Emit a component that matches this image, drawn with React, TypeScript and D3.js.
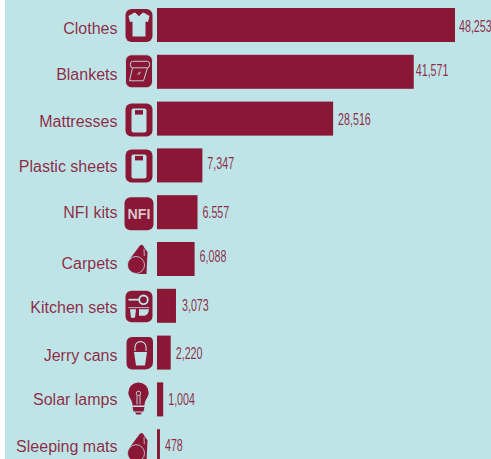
import React from "react";
import * as d3 from "d3";

const categories = ["Clothes","Blankets","Mattresses","Plastic sheets","NFI kits","Carpets","Kitchen sets","Jerry cans","Solar lamps","Sleeping mats"];
const values = [48253,41571,28516,7347,6557,6088,3073,2220,1004,478];
const valueLabels = ["48,253","41,571","28,516","7,347","6.557","6,088","3,073","2,220","1,004","478"];
const icons = ["shirt","blanket","mattress","mattress","nfi","roll","kitchen","bucket","lamp","roll"];

const BG = "#bee4e8";
const INK = "#8a1735";

const W = 491, H = 459;
const x = d3.scaleLinear().domain([0, 48253]).range([157, 455]);
const y = d3.scaleBand<number>().domain(d3.range(10)).range([8, 463.2]).paddingInner(0.2735).paddingOuter(0);

const Tile = ({ x: tx = 0, y: ty = 0, w = 27, h = 33 }: any) => <rect x={tx} y={ty} width={w} height={h} rx={6} fill={INK} />;

function Icon({ kind }: { kind: string }) {
  switch (kind) {
    case "shirt":
      return <g><Tile />
        <path d="M9 3.5 L13.5 5.5 L18 3.5 L24 7 L22.5 13 L20 12.5 L20 27.5 L7 27.5 L7 12.5 L4.5 13 L3 7 Z" fill={BG} />
        <path d="M10 3.5 L13.5 7 L17 3.5" fill={INK} stroke={INK} strokeWidth={0.5} /></g>;
    case "blanket":
      return <g fill="none" stroke={BG} strokeWidth={0.9}><Tile />
        <path d="M7 6.5 H22 A2 3 0 0 1 22 13 H7 A2 3 0 0 1 7 6.5 Z" />
        <path d="M7 13 L4 26 H18 L22 13" />
        <path d="M12 20 L14 17 M13.5 20 L15 17" strokeWidth={0.7} /></g>;
    case "mattress":
      return <g><Tile />
        <rect x={6} y={5} width={15} height={24} rx={2} fill={BG} />
        <rect x={9.5} y={6.5} width={8} height={4.5} fill={INK} /></g>;
    case "nfi":
      return <g><rect x={-1} y={0} width={29} height={33} rx={6} fill={INK} />
        <text x={13.5} y={22} textAnchor="middle" fontFamily="'Liberation Sans', Arial, sans-serif" fontWeight={700} fontSize={15} fill="#d9c4cc" transform="translate(13.5 0) scale(0.95 1) translate(-13.5 0)">NFI</text></g>;
    case "roll":
      return <g>
        <path d="M5 15 L14 3 Q17 0 19 5 L22 9 L21 31 L10 31 Z" fill={INK} />
        <circle cx={10.5} cy={22} r={8.5} fill={INK} stroke={BG} strokeWidth={0.8} />
        <path d="M18.5 6 L18.8 13" stroke={BG} strokeWidth={0.8} fill="none" /></g>;
    case "kitchen":
      return <g><rect x={0} y={1} width={27} height={31.5} rx={6} fill={INK} />
        <rect x={3} y={9} width={11} height={1.8} fill={BG} />
        <circle cx={18} cy={10} r={4.3} fill="none" stroke={BG} strokeWidth={1.8} />
        <path d="M4.5 19.5 H10.5 L9.5 28 H5.5 Z" fill={BG} />
        <path d="M13.5 19.5 H23.5 Q23 25 19 26 H13.5 Z" fill={BG} />
        <rect x={3} y={17.5} width={21} height={0.8} fill={BG} /></g>;
    case "bucket":
      return <g><path d="M7 0 H23 Q27.5 0 27.5 5 V25 Q27.5 32 20 32.5 H7 Q1 32.5 1 26 V6 Q1 0 7 0 Z" fill={INK} />
        <path d="M9.5 14 V10 A5.5 5.5 0 0 1 20.5 10 V14" fill="none" stroke={BG} strokeWidth={1.1} />
        <path d="M8.5 15 H21.5 L19.5 28.5 H10.5 Z" fill={BG} /></g>;
    case "lamp":
      return <g>
        <path d="M13 -1 A10.2 10.2 0 0 1 23.2 9 C23.2 14 19 16 19 22 H7 C7 16 2.8 14 2.8 9 A10.2 10.2 0 0 1 13 -1 Z" fill={INK} />
        <path d="M7 23.5 H19 L18 28 H8 Z" fill={INK} />
        <path d="M9.5 29 H16.5 L15 31 H11 Z" fill={INK} />
        <path d="M11.5 21 V12 M14.5 21 V12" stroke={BG} strokeWidth={0.9} />
        <circle cx={13} cy={10} r={2.2} fill="none" stroke={BG} strokeWidth={0.9} /></g>;
  }
  return null;
}

const nameBaseline = [26, 25, 25, 24, 23, 27, 24, 25, 23, 23];
const valueBaseline = [24, 21, 23, 21, 23, 20, 22, 23, 23, 22];
const labelNudge = [-1, -3, 0, 0, 0, 0, 1, 0, 0, 0];
const iconNudge = [0, -1, 1, 0, 1, 0, 0, 0.5, 0, 1];

export default function App() {
  return (
    <svg width={W} height={H} style={{ position: "absolute", left: 0, top: 0, display: "block" }}>
      <rect x={5} y={0} width={W - 5} height={H} fill={BG} />
      {categories.map((c, i) => {
        const by = y(i)!;
        const bh = y.bandwidth();
        const vx = x(values[i]) + 5 + labelNudge[i];
        return (
          <g key={c}>
            <text x={117.5} y={by + nameBaseline[i]} textAnchor="end" fontFamily="'Liberation Sans', Arial, sans-serif" fontSize={16} fill={INK} fillOpacity={0.92}>{c}</text>
            <g transform={`translate(125.5,${by + 1 + iconNudge[i]})`}><Icon kind={icons[i]} /></g>
            <rect x={x(0)} y={by} width={x(values[i]) - x(0)} height={bh} fill={INK} />
            <text transform={`translate(${vx},${by + valueBaseline[i]}) scale(0.63,1)`} fontFamily="'Liberation Sans', sans-serif" fontSize={17} fill={INK} fillOpacity={0.92}>{valueLabels[i]}</text>
          </g>
        );
      })}
    </svg>
  );
}
